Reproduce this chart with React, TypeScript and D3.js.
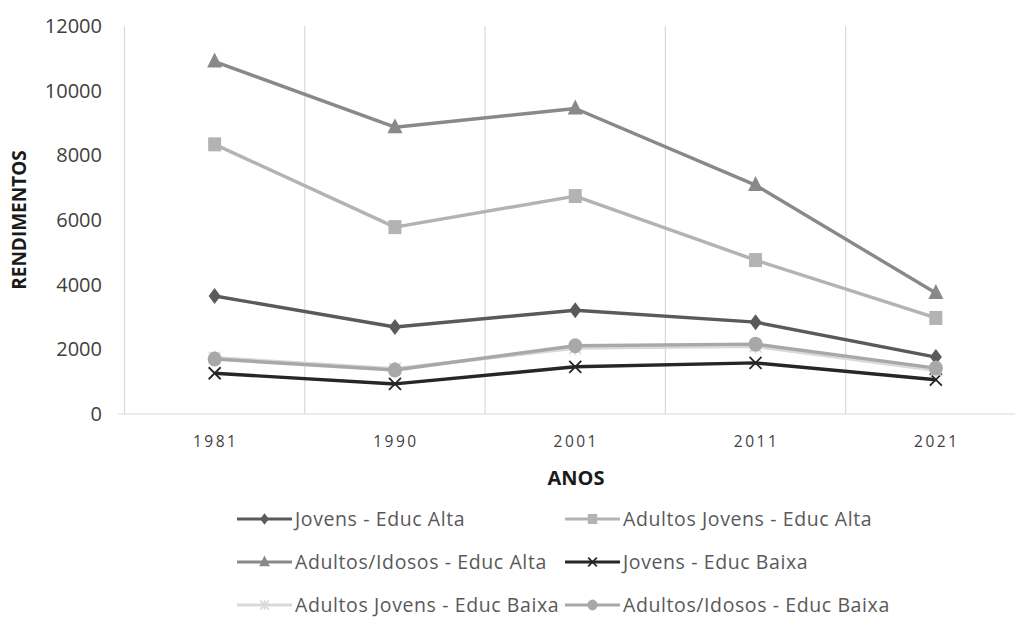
import React from "react";
import * as d3 from "d3";

// Income by age group and education level, 1981–2021
const years = ["1981", "1990", "2001", "2011", "2021"];
const yTicks = [0, 2000, 4000, 6000, 8000, 10000, 12000];

const jovensAlta = [3650, 2690, 3210, 2840, 1760];
const adultosJovensAlta = [8340, 5780, 6740, 4760, 2970];
const adultosIdososAlta = [10900, 8870, 9450, 7080, 3740];
const jovensBaixa = [1260, 930, 1460, 1580, 1060];
const adultosJovensBaixa = [1740, 1400, 2040, 2090, 1350];
const adultosIdososBaixa = [1700, 1360, 2110, 2160, 1420];

const seriesNames = [
  "Jovens - Educ Alta",
  "Adultos Jovens - Educ Alta",
  "Adultos/Idosos - Educ Alta",
  "Jovens - Educ Baixa",
  "Adultos Jovens - Educ Baixa",
  "Adultos/Idosos - Educ Baixa",
];
const seriesValues = [
  jovensAlta,
  adultosJovensAlta,
  adultosIdososAlta,
  jovensBaixa,
  adultosJovensBaixa,
  adultosIdososBaixa,
];
const seriesColors = ["#5a5a5a", "#b3b3b3", "#898989", "#262626", "#d9d9d9", "#a8a8a8"];
const seriesMarkers = ["diamond", "square", "triangle", "x", "asterisk", "circle"];

const W = 1015;
const H = 619;
const FONT = "'Open Sans', Lato, sans-serif";

const x = d3.scaleBand<string>().domain(years).range([124.5, 1026]);
const y = d3.scaleLinear().domain([0, 12000]).range([414, 26]);

function Marker({ kind, cx, cy, color, s = 1 }: { kind: string; cx: number; cy: number; color: string; s?: number }) {
  switch (kind) {
    case "diamond":
      return <path d={`M${cx},${cy - 8 * s}L${cx + 6 * s},${cy}L${cx},${cy + 8 * s}L${cx - 6 * s},${cy}Z`} fill={color} />;
    case "square":
      return <rect x={cx - 6.5 * s} y={cy - 7 * s} width={13 * s} height={14 * s} fill={color} />;
    case "triangle":
      return <path d={`M${cx},${cy - 9 * s}L${cx + 7.5 * s},${cy + 6 * s}L${cx - 7.5 * s},${cy + 6 * s}Z`} fill={color} />;
    case "x":
      return (
        <path
          d={`M${cx - 6 * s},${cy - 6 * s}L${cx + 6 * s},${cy + 6 * s}M${cx - 6 * s},${cy + 6 * s}L${cx + 6 * s},${cy - 6 * s}`}
          stroke={color}
          strokeWidth={1.8}
        />
      );
    case "asterisk":
      return (
        <path
          d={`M${cx - 6 * s},${cy - 6 * s}L${cx + 6 * s},${cy + 6 * s}M${cx - 6 * s},${cy + 6 * s}L${cx + 6 * s},${cy - 6 * s}M${cx},${cy - 7 * s}L${cx},${cy + 7 * s}`}
          stroke={color}
          strokeWidth={1.6}
        />
      );
    default:
      return <ellipse cx={cx} cy={cy} rx={7 * s} ry={7.5 * s} fill={color} />;
  }
}

// Legend entries: [row, column]
const legendRows = [519, 562, 605];
const legendCols = [237, 565];
const legendPos = [
  [0, 0],
  [0, 1],
  [1, 0],
  [1, 1],
  [2, 0],
  [2, 1],
];

export default function App() {
  const line = d3
    .line<number>()
    .x((_, i) => (x(years[i]) as number) + x.bandwidth() / 2)
    .y((v) => y(v));

  const bounds = years.map((yr) => x(yr) as number);

  return (
    <svg
      width={W}
      height={H}
      style={{ position: "absolute", left: 0, top: 0, background: "#fff" }}
      fontFamily={FONT}
    >
      {/* vertical category gridlines */}
      {bounds.slice(1).map((bx, i) => (
        <line key={i} x1={bx} x2={bx} y1={26} y2={414} stroke="#d9d9d9" strokeWidth={1.2} />
      ))}
      {/* axes */}
      <line x1={124.5} x2={124.5} y1={26} y2={414} stroke="#d9d9d9" strokeWidth={1.2} />
      <line x1={118} x2={W} y1={414} y2={414} stroke="#d9d9d9" strokeWidth={1.2} />

      {yTicks.map((t) => (
        <text key={t} x={102} y={y(t)} dy="0.35em" textAnchor="end" fontSize={20} fill="#404040">
          {t}
        </text>
      ))}
      {years.map((yr) => (
        <text
          key={yr}
          x={(x(yr) as number) + x.bandwidth() / 2 + 1}
          y={442}
          dy="0.35em"
          textAnchor="middle"
          fontSize={15.5}
          letterSpacing={2.5}
          fill="#404040"
        >
          {yr}
        </text>
      ))}

      <text x={576} y={478} dy="0.35em" textAnchor="middle" fontSize={20} fontWeight="bold" fill="#1a1a1a">
        ANOS
      </text>
      <text
        transform={`translate(19,220) rotate(-90)`}
        dy="0.35em"
        textAnchor="middle"
        fontSize={19}
        fontWeight="bold"
        fill="#1a1a1a"
      >
        RENDIMENTOS
      </text>

      {/* series */}
      {seriesValues.map((vals, si) => (
        <g key={si}>
          <path d={line(vals) as string} fill="none" stroke={seriesColors[si]} strokeWidth={3.4} strokeLinejoin="round" />
          {vals.map((v, i) => (
            <Marker
              key={i}
              kind={seriesMarkers[si]}
              cx={(x(years[i]) as number) + x.bandwidth() / 2}
              cy={y(v)}
              color={seriesColors[si]}
            />
          ))}
        </g>
      ))}

      {/* legend */}
      {seriesNames.map((name, si) => {
        const [r, c] = legendPos[si];
        const lx = legendCols[c];
        const ly = legendRows[r];
        return (
          <g key={name}>
            <line x1={lx} x2={lx + 55} y1={ly} y2={ly} stroke={seriesColors[si]} strokeWidth={3.2} />
            <Marker kind={seriesMarkers[si]} cx={lx + 27.5} cy={ly} color={seriesColors[si]} s={0.72} />
            <text x={lx + 58} y={ly} dy="0.35em" fontSize={19.5} letterSpacing={0.6} fill="#595959">
              {name}
            </text>
          </g>
        );
      })}
    </svg>
  );
}
